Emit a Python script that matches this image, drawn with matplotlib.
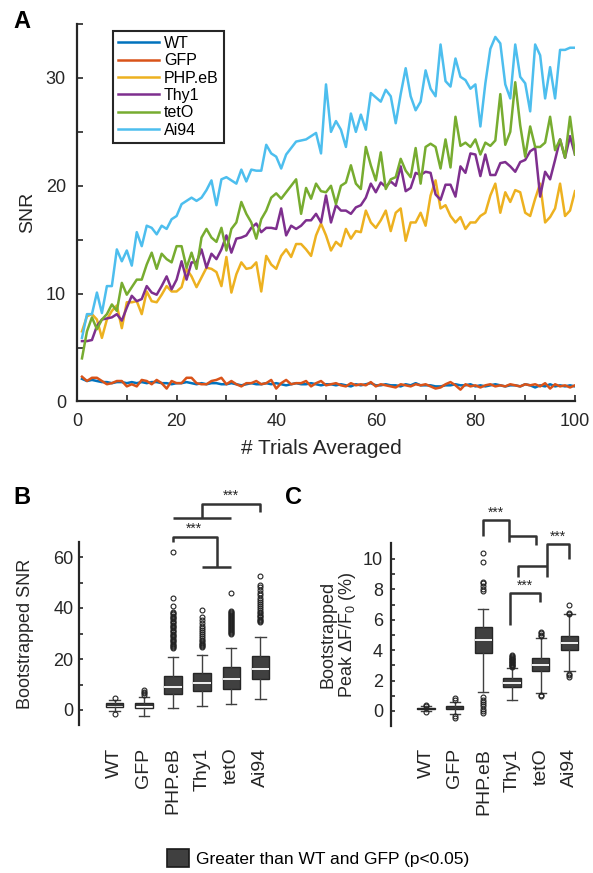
import numpy as np
import matplotlib
matplotlib.use('Agg')
import matplotlib.pyplot as plt
from matplotlib.patches import Patch

plt.rcParams['font.family'] = ['Liberation Sans', 'DejaVu Sans']
plt.rcParams['mathtext.fontset'] = 'custom'
plt.rcParams['mathtext.rm'] = 'Liberation Sans'

# ---- data ----
groups = ['WT', 'GFP', 'PHP.eB', 'Thy1', 'tetO', 'Ai94']
colors = ['#0072BD', '#D95319', '#EDB120', '#7E2F8E', '#77AC30', '#4DBEEE']
trials = np.arange(1, 101)

snr_wt = [2.1, 1.9, 2.0, 1.9, 1.8, 1.8, 1.7, 1.8, 1.8, 1.7,
          1.8, 1.7, 1.8, 1.7, 1.8, 1.8, 1.7, 1.7, 1.6, 1.7,
          1.7, 1.8, 1.7, 1.6, 1.7, 1.6, 1.7, 1.7, 1.6, 1.6,
          1.7, 1.6, 1.5, 1.6, 1.7, 1.6, 1.6, 1.7, 1.6, 1.7,
          1.6, 1.5, 1.6, 1.7, 1.6, 1.6, 1.7, 1.6, 1.5, 1.6,
          1.6, 1.5, 1.6, 1.5, 1.4, 1.6, 1.5, 1.6, 1.7, 1.5,
          1.5, 1.6, 1.5, 1.5, 1.4, 1.6, 1.5, 1.7, 1.5, 1.5,
          1.5, 1.4, 1.4, 1.5, 1.5, 1.6, 1.5, 1.5, 1.6, 1.4,
          1.5, 1.4, 1.5, 1.6, 1.5, 1.4, 1.5, 1.5, 1.4, 1.6,
          1.5, 1.3, 1.5, 1.4, 1.6, 1.4, 1.5, 1.4, 1.5, 1.4]
snr_gfp = [2.3, 1.9, 2.2, 2.2, 1.9, 1.6, 1.7, 1.9, 1.9, 1.4,
           1.6, 1.4, 2.0, 1.9, 1.6, 2.0, 1.7, 1.2, 1.9, 1.7,
           1.7, 2.2, 2.2, 1.7, 1.6, 1.6, 1.9, 2.0, 2.2, 1.6,
           1.9, 1.6, 1.4, 1.7, 1.7, 1.9, 1.6, 1.7, 2.0, 1.2,
           1.7, 2.0, 1.6, 1.7, 1.7, 1.9, 1.4, 1.7, 1.9, 1.5,
           1.6, 1.7, 1.5, 1.4, 1.7, 1.5, 1.6, 1.5, 1.8, 1.4,
           1.6, 1.5, 1.4, 1.3, 1.6, 1.5, 1.4, 1.6, 1.5, 1.6,
           1.4, 1.2, 1.3, 1.6, 1.8, 1.5, 1.1, 1.6, 1.4, 1.5,
           1.3, 1.5, 1.6, 1.4, 1.5, 1.4, 1.6, 1.5, 1.4, 1.6,
           1.5, 1.6, 1.4, 1.7, 1.2, 1.6, 1.4, 1.5, 1.3, 1.5]
snr_php = [6.5, 7.9, 8.1, 7.6, 5.9, 7.6, 8.4, 8.9, 6.8, 9.2,
           9.2, 9.3, 8.1, 10.2, 9.3, 9.2, 9.9, 10.7, 10.2, 10.2,
           10.6, 12.3, 11.6, 10.6, 11.5, 12.4, 12.3, 12.0, 10.7, 13.4,
           10.1, 11.8, 12.9, 12.3, 12.4, 12.9, 10.2, 13.5, 12.7, 12.3,
           13.5, 14.1, 13.4, 14.6, 14.6, 14.1, 13.5, 15.4, 16.5, 15.4,
           14.0, 14.8, 14.4, 16.0, 15.1, 15.8, 15.7, 17.7, 16.6, 16.1,
           16.8, 17.7, 15.8, 17.5, 17.9, 14.9, 16.6, 16.6, 17.5, 16.3,
           19.1, 20.5, 17.9, 18.2, 17.2, 16.6, 17.1, 16.0, 16.6, 16.6,
           17.2, 17.5, 19.1, 20.2, 17.5, 19.4, 18.5, 19.6, 19.4, 17.5,
           17.2, 18.8, 20.2, 16.6, 17.1, 17.9, 20.2, 17.2, 17.7, 19.5]
snr_thy1 = [5.6, 5.6, 5.7, 7.0, 7.6, 7.7, 7.8, 8.1, 7.5, 8.7,
            9.8, 9.3, 9.5, 10.7, 10.1, 9.9, 10.7, 11.6, 10.4, 11.3,
            13.0, 11.3, 12.9, 12.9, 14.1, 12.4, 13.7, 13.2, 14.1, 15.4,
            13.8, 15.1, 15.2, 15.4, 16.1, 16.5, 15.7, 16.1, 16.1, 16.0,
            17.9, 15.4, 16.3, 16.0, 16.3, 16.8, 16.8, 17.4, 16.6, 19.1,
            16.6, 18.2, 17.7, 17.7, 17.4, 18.0, 18.2, 18.9, 20.2, 19.4,
            20.3, 19.9, 20.4, 20.0, 21.8, 19.5, 19.8, 21.2, 21.0, 21.3,
            21.2, 19.2, 18.7, 20.1, 20.1, 19.0, 21.8, 21.2, 23.0, 22.9,
            20.9, 22.9, 21.0, 21.0, 22.1, 22.2, 21.8, 21.3, 22.2, 22.4,
            23.2, 23.5, 19.0, 21.3, 20.6, 22.4, 24.3, 22.6, 24.6, 22.9]
snr_teto = [4.0, 6.5, 7.8, 6.7, 7.6, 8.1, 9.0, 8.4, 11.0, 9.9,
            10.6, 11.3, 11.3, 12.7, 13.8, 12.3, 13.7, 13.2, 12.9, 14.4,
            14.4, 12.4, 13.8, 12.3, 15.2, 16.0, 15.2, 14.8, 16.1, 14.0,
            16.0, 16.6, 18.5, 17.4, 16.6, 15.1, 16.9, 17.7, 18.9, 19.3,
            18.8, 19.4, 20.0, 20.6, 17.4, 19.8, 18.8, 20.2, 19.5, 19.4,
            20.0, 18.3, 20.0, 20.3, 21.9, 20.2, 19.7, 23.6, 21.9, 20.5,
            23.1, 19.7, 20.6, 20.8, 22.5, 21.4, 20.8, 23.5, 20.2, 23.6,
            23.9, 23.6, 21.6, 24.3, 21.7, 26.4, 23.7, 24.0, 23.6, 24.3,
            22.9, 24.0, 23.7, 24.2, 28.5, 23.8, 25.0, 29.6, 25.6, 22.7,
            25.5, 23.6, 23.6, 24.0, 26.4, 23.3, 24.3, 22.6, 26.4, 22.9]
snr_ai94 = [5.9, 8.1, 8.1, 10.1, 8.2, 10.7, 10.7, 14.1, 13.0, 14.0,
            12.6, 15.7, 14.4, 16.3, 16.1, 15.5, 16.3, 16.0, 16.9, 17.2,
            18.3, 18.6, 18.9, 18.6, 18.9, 19.6, 20.5, 18.2, 20.6, 20.8,
            20.5, 20.2, 21.5, 20.4, 21.5, 21.4, 21.4, 23.8, 23.0, 22.7,
            21.6, 22.9, 23.5, 24.1, 24.2, 24.3, 24.6, 24.9, 23.0, 29.4,
            25.0, 26.0, 25.2, 23.6, 26.7, 25.0, 26.6, 25.2, 28.6, 28.2,
            27.8, 28.9, 28.3, 25.8, 28.5, 30.9, 28.3, 27.0, 27.8, 30.7,
            29.0, 28.3, 33.1, 29.7, 29.2, 31.8, 30.1, 29.8, 29.0, 29.4,
            25.5, 29.5, 32.7, 33.8, 33.2, 29.4, 28.1, 33.1, 30.1, 29.5,
            26.9, 33.1, 32.1, 28.1, 31.0, 28.1, 32.6, 32.6, 32.8, 32.8]
snr_series = [snr_wt, snr_gfp, snr_php, snr_thy1, snr_teto, snr_ai94]

# panel B: bootstrapped SNR box statistics
b_med = [1.9, 1.8, 8.9, 10.7, 12.0, 16.0]
b_q1 = [1.3, 0.9, 6.1, 7.6, 8.1, 12.2]
b_q3 = [2.6, 2.9, 13.3, 14.4, 17.0, 21.3]
b_lo = [-0.5, -2.2, 0.7, 1.7, 2.2, 4.2]
b_hi = [4.0, 5.2, 20.7, 21.6, 24.2, 28.5]
b_fliers = [
    [4.6, -1.6],
    [6.0, 6.6, 7.2, 7.7],
    [24.2, 24.6, 25.0, 25.5, 26.0, 26.5, 27.0, 27.5, 28.0, 28.5, 29.0, 29.5,
     30.0, 30.5, 31.0, 31.5, 32.0, 32.5, 33.0, 33.5, 34.0, 34.5, 35.0, 35.5,
     36.0, 36.5, 37.0, 37.5, 38.0, 38.6, 40.8, 44.0, 62.1],
    [24.6, 25.0, 25.4, 25.8, 26.3, 27.0, 27.6, 28.3, 29.0, 29.8, 30.6, 31.4,
     32.2, 33.0, 34.0, 35.2, 36.3, 39.1],
    [29.8, 30.2, 30.6, 31.0, 31.4, 31.8, 32.2, 32.6, 33.0, 33.4, 33.8, 34.2,
     34.6, 35.0, 35.4, 35.8, 36.2, 36.6, 37.0, 37.4, 37.8, 38.2, 38.6, 39.0, 45.7],
    [34.6, 35.0, 35.4, 35.8, 36.3, 36.8, 37.4, 38.0, 38.6, 39.2, 40.0, 40.8,
     41.6, 42.4, 43.2, 44.0, 45.0, 46.0, 47.2, 48.4, 49.0, 52.7],
]

# panel C: bootstrapped peak dF/F0 (%) box statistics
c_med = [0.15, 0.2, 4.65, 1.85, 3.05, 4.45]
c_q1 = [0.1, 0.1, 3.8, 1.55, 2.6, 4.0]
c_q3 = [0.2, 0.35, 5.5, 2.2, 3.5, 4.9]
c_lo = [0.0, -0.2, 1.25, 0.7, 1.15, 2.6]
c_hi = [0.3, 0.6, 6.7, 2.85, 4.8, 6.35]
c_fliers = [
    [0.35, 0.4, -0.05],
    [0.75, 0.85, -0.35, -0.45],
    [7.9, 8.05, 8.2, 8.4, 8.5, 9.8, 10.4, 0.9, 0.75, 0.6, 0.45, 0.3, 0.15, 0.0, -0.15],
    [2.9, 2.95, 3.0, 3.05, 3.1, 3.15, 3.2, 3.25, 3.3, 3.35, 3.4, 3.45, 3.5,
     3.55, 3.6, 3.65],
    [4.9, 5.0, 5.1, 5.2, 1.0, 1.05],
    [6.4, 6.45, 7.0, 2.45, 2.35, 2.25],
]
significant = [False, False, True, True, True, True]

dark = '#262626'
W, H = 593, 873
fig = plt.figure(figsize=(W / 100, H / 100), dpi=100)


def px_axes(l, t, r, b):
    return fig.add_axes([l / W, 1 - b / H, (r - l) / W, (b - t) / H])


def style_axis(ax, ticklen, pad, size):
    for s in ['top', 'right']:
        ax.spines[s].set_visible(False)
    for s in ['left', 'bottom']:
        ax.spines[s].set_color(dark)
        ax.spines[s].set_linewidth(1.6)
    ax.tick_params(direction='in', length=ticklen, width=1.2, colors=dark,
                   labelcolor=dark, labelsize=size, pad=pad)


# ---- panel A ----
axA = px_axes(77, 24, 575, 401.5)
for name, y, c in zip(groups, snr_series, colors):
    axA.plot(trials, y, color=c, lw=1.8, label=name)
axA.set_xlim(0, 100)
axA.set_ylim(0, 35)
xt = list(range(0, 101, 10))
axA.set_xticks(xt, [str(v) if v % 20 == 0 else '' for v in xt])
yt = list(range(0, 36, 5))
axA.set_yticks(yt, [str(v) if v % 10 == 0 else '' for v in yt])
style_axis(axA, 4.5, 8, 13)
axA.set_xlabel('# Trials Averaged', fontsize=15, color=dark)
axA.set_ylabel('SNR', fontsize=14, color=dark)
axA.yaxis.set_label_coords(-0.082, 0.5)
axA.xaxis.set_label_coords(0.49, -0.1)
leg = axA.legend(loc='upper left', bbox_to_anchor=(113 / W, 1 - 31 / H),
                 bbox_transform=fig.transFigure, borderaxespad=0, fontsize=11.5,
                 fancybox=False, edgecolor=dark, framealpha=1,
                 handlelength=2.6, handletextpad=0.3, labelspacing=0.15,
                 borderpad=0.3)
leg.get_frame().set_linewidth(1.5)


def draw_boxes(ax, med, q1, q3, lo, hi, fliers):
    stats = []
    for i in range(len(groups)):
        stats.append(dict(med=med[i], q1=q1[i], q3=q3[i], whislo=lo[i],
                          whishi=hi[i], fliers=fliers[i], label=groups[i]))
    bp = ax.bxp(stats, positions=range(1, 7), widths=0.6, capwidths=0.35,
                patch_artist=True,
                boxprops=dict(edgecolor=dark, linewidth=1.0),
                medianprops=dict(color='white', linewidth=1.3),
                whiskerprops=dict(color='#404040', linewidth=1.0),
                capprops=dict(color='#404040', linewidth=1.0),
                flierprops=dict(marker='o', markersize=3.5, markerfacecolor='none',
                                markeredgecolor='#222222', markeredgewidth=0.8))
    for i, box in enumerate(bp['boxes']):
        if significant[i]:
            box.set_facecolor('#404040')
        else:
            box.set_facecolor('white')
            bp['medians'][i].set_color(dark)
    ax.spines['bottom'].set_visible(False)
    ax.set_xticks(range(1, 7), groups, rotation=90, va='top', ha='center')


def bracket(ax, xs, ys):
    ax.plot(xs, ys, color='#333333', lw=1.8, clip_on=False, solid_capstyle='butt')


def stars(ax, x, y):
    ax.text(x, y, '***', ha='center', va='bottom', fontsize=10, color=dark, clip_on=False)


# ---- panel B ----
axB = px_axes(79, 541.7, 278, 725.3)
draw_boxes(axB, b_med, b_q1, b_q3, b_lo, b_hi, b_fliers)
axB.set_xlim(-0.22, 6.6)
axB.set_ylim(-6, 66)
bt = list(range(0, 61, 10))
axB.set_yticks(bt, [str(v) if v % 20 == 0 else '' for v in bt])
style_axis(axB, 3, 4, 13)
axB.tick_params(axis='x', length=0, pad=16, labelsize=14)
axB.set_ylabel('Bootstrapped SNR', fontsize=13, color=dark)
axB.yaxis.set_label_coords(-0.226, 0.5)
bracket(axB, [3, 3, 4.5, 4.5], [66, 68, 68, 56])
bracket(axB, [4, 5], [56, 56])
stars(axB, 3.72, 68.4)
bracket(axB, [3, 5], [75.2, 75.2])
bracket(axB, [4, 4, 6, 6], [75.2, 80.8, 80.8, 77.8])
stars(axB, 5.0, 81.1)

# ---- panel C ----
axC = px_axes(390.7, 542.7, 586.7, 726)
draw_boxes(axC, c_med, c_q1, c_q3, c_lo, c_hi, c_fliers)
axC.set_xlim(-0.23, 6.6)
axC.set_ylim(-0.99, 11.07)
ct = list(range(0, 11))
axC.set_yticks(ct, [str(v) if v % 2 == 0 else '' for v in ct])
style_axis(axC, 3, 5.5, 13)
axC.tick_params(axis='x', length=0, pad=16, labelsize=14)
axC.set_ylabel('Bootstrapped\nPeak ΔF/F$_0$ (%)', fontsize=13, color=dark,
               linespacing=1.05)
axC.yaxis.set_label_coords(-0.167, 0.5)
bracket(axC, [3, 3, 3.9, 3.9], [11.5, 12.57, 12.57, 11.1])
bracket(axC, [3.9, 4.85, 4.85], [11.5, 11.5, 10.9])
stars(axC, 3.45, 12.6)
bracket(axC, [6, 6, 5.2, 5.2], [9.97, 10.96, 10.96, 8.82])
bracket(axC, [4.2, 4.2, 5.2], [8.82, 9.52, 9.52])
stars(axC, 5.6, 10.98)
bracket(axC, [3.94, 3.94, 4.96, 4.96], [5.66, 7.76, 7.76, 7.2])
stars(axC, 4.45, 7.78)

# ---- panel letters ----
for letter, x, y in [('A', 22, 22), ('B', 22, 498), ('C', 293, 498)]:
    fig.text(x / W, 1 - y / H, letter, fontsize=17, fontweight='bold',
             ha='center', va='center', color='black')

# ---- bottom legend ----
fig.legend(handles=[Patch(facecolor='#404040', edgecolor='#1a1a1a', linewidth=1.2)],
           labels=['Greater than WT and GFP (p<0.05)'],
           loc='center', bbox_to_anchor=(318 / W, 1 - 858 / H), frameon=False,
           prop={'family': ['Liberation Sans Narrow', 'Liberation Sans'], 'size': 12.5},
           handlelength=1.25, handleheight=1.3, handletextpad=0.4)

fig.savefig('out.png', dpi=100)
